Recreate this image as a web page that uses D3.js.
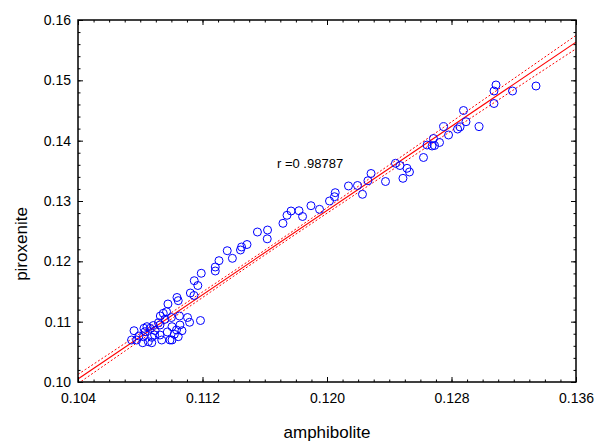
<!DOCTYPE html>
<html>
<head>
<meta charset="utf-8">
<script src="https://cdn.jsdelivr.net/npm/d3@7"></script>
<style>
  html, body { margin: 0; padding: 0; background: #fff; }
</style>
</head>
<body>
<script>
const WIDTH = 602;
const HEIGHT = 444;
const FONT = '"Liberation Sans", Arial, sans-serif';
const M = { left: 78, right: 26, top: 20, bottom: 62 };

// data
const amphibolite = [
  0.13086, 0.13073, 0.13192, 0.13343, 0.13073, 0.12877, 0.12893, 0.12749, 0.12855, 0.12839,
  0.12977, 0.12781, 0.12684, 0.12643, 0.12675, 0.12691, 0.12723, 0.12620, 0.12440, 0.12469,
  0.12514, 0.12530, 0.12488, 0.12376, 0.12283, 0.12263, 0.12196, 0.12138, 0.12228, 0.12053,
  0.12048, 0.12016, 0.11952, 0.11897, 0.11843, 0.11820, 0.11769, 0.11743, 0.11717, 0.11618,
  0.11616, 0.11553, 0.11486, 0.11451, 0.11444, 0.11392, 0.11359, 0.11306, 0.11282, 0.11282,
  0.11192, 0.11147, 0.11170, 0.11122, 0.11145, 0.11036, 0.11044, 0.10978, 0.10969, 0.10948,
  0.10929, 0.10917, 0.10959, 0.11000, 0.11052, 0.11104, 0.11117, 0.11187, 0.11055, 0.11004,
  0.11033, 0.11068, 0.11019, 0.10974, 0.10927, 0.10895, 0.10884, 0.10927, 0.10843, 0.10824,
  0.10863, 0.10831, 0.10820, 0.10874, 0.10760, 0.10792, 0.10744, 0.10777, 0.10816, 0.10874,
  0.10852, 0.10938, 0.11004, 0.11044, 0.10991, 0.10892
];
const piroxenite = [
  0.14923, 0.14823, 0.14823, 0.14906, 0.14616, 0.14500, 0.14314, 0.14232, 0.14227, 0.14193,
  0.14232, 0.14094, 0.14036, 0.13928, 0.13912, 0.13920, 0.13970, 0.13721, 0.13625, 0.13588,
  0.13542, 0.13481, 0.13376, 0.13323, 0.13456, 0.13336, 0.13257, 0.13249, 0.13111, 0.13138,
  0.13071, 0.13000, 0.12862, 0.12922, 0.12743, 0.12839, 0.12834, 0.12763, 0.12630, 0.12519,
  0.12373, 0.12486, 0.12279, 0.12238, 0.12188, 0.12050, 0.12176, 0.12011, 0.11906, 0.11840,
  0.11802, 0.11679, 0.11599, 0.11475, 0.11434, 0.11401, 0.11348, 0.11293, 0.11165, 0.11139,
  0.11094, 0.10983, 0.11039, 0.11069, 0.11094, 0.11069, 0.10990, 0.11019, 0.10945, 0.10917,
  0.10862, 0.10850, 0.10791, 0.10829, 0.10779, 0.10854, 0.10936, 0.10945, 0.10917, 0.10890,
  0.10890, 0.10834, 0.10751, 0.10741, 0.10850, 0.10762, 0.10696, 0.10696, 0.10651, 0.10651,
  0.10668, 0.10696, 0.10696, 0.10751, 0.10696, 0.10779
];

// fitted line as drawn in the picture (piroxenite = a + b * amphibolite)
const fitIntercept = -0.08098;
const fitSlope = 1.745;
const residualSd = 0.002;

const xTicks = [0.104, 0.112, 0.120, 0.128, 0.136];
const xTickLabels = ['0.104', '0.112', '0.120', '0.128', '0.136'];
const yTicks = [0.10, 0.11, 0.12, 0.13, 0.14, 0.15, 0.16];
const yTickLabels = ['0.10', '0.11', '0.12', '0.13', '0.14', '0.15', '0.16'];
const xMinorStep = 0.001;
const yMinorStep = 0.002;
const rLabel = 'r =0 .98787';

const points = amphibolite.map((a, i) => ({ x: a, y: piroxenite[i] }));

const svg = d3.select('body').append('svg')
  .attr('width', WIDTH)
  .attr('height', HEIGHT)
  .attr('viewBox', `0 0 ${WIDTH} ${HEIGHT}`)
  .style('display', 'block')
  .style('background', '#fff');

const x = d3.scaleLinear().domain([0.104, 0.136]).range([M.left, WIDTH - M.right]);
const y = d3.scaleLinear().domain([0.10, 0.16]).range([HEIGHT - M.bottom, M.top]);

const xMinor = d3.range(0.104, 0.1365, xMinorStep);
const yMinor = d3.range(0.10, 0.1605, yMinorStep);

svg.append('clipPath').attr('id', 'clip')
  .append('rect')
  .attr('x', M.left).attr('y', M.top)
  .attr('width', x.range()[1] - M.left)
  .attr('height', y.range()[0] - M.top);

// 95% confidence band of the fitted line
const n = points.length;
const mx = d3.mean(points, d => d.x);
const sxx = d3.sum(points, d => (d.x - mx) ** 2);
const tval = 1.986;
const xs = d3.range(0.104, 0.13601, 0.0005);
const fit = v => fitIntercept + fitSlope * v;
const band = (k) => xs.map(v => [v, fit(v) + k * tval * residualSd * Math.sqrt(1 / n + (v - mx) ** 2 / sxx)]);

const line = d3.line().x(d => x(d[0])).y(d => y(d[1]));
const g = svg.append('g').attr('clip-path', 'url(#clip)');

[-1, 1].forEach(k => {
  g.append('path')
    .attr('d', line(band(k)))
    .attr('fill', 'none')
    .attr('stroke', '#ff0000')
    .attr('stroke-width', 1)
    .attr('stroke-dasharray', '2,2');
});
g.append('path')
  .attr('d', line([[0.104, fit(0.104)], [0.136, fit(0.136)]]))
  .attr('fill', 'none')
  .attr('stroke', '#ff0000')
  .attr('stroke-width', 1.1);

g.selectAll('circle.pt')
  .data(points)
  .join('circle')
  .attr('class', 'pt')
  .attr('cx', d => x(d.x))
  .attr('cy', d => y(d.y))
  .attr('r', 4)
  .attr('fill', 'none')
  .attr('stroke', '#0000ff')
  .attr('stroke-width', 1);

// axes, ticks inside
function styleAxis(sel) {
  sel.select('.domain').remove();
  sel.selectAll('line').attr('stroke', '#000').attr('stroke-width', 1);
  sel.selectAll('text').attr('fill', '#000').attr('font-family', FONT).attr('font-size', 14);
}
const bottom = HEIGHT - M.bottom;
const right = WIDTH - M.right;

svg.append('g').attr('transform', `translate(0,${bottom})`)
  .call(d3.axisBottom(x).tickValues(xMinor).tickSize(-2.5).tickFormat(''))
  .call(styleAxis);
svg.append('g').attr('transform', `translate(0,${M.top})`)
  .call(d3.axisTop(x).tickValues(xMinor).tickSize(-2.5).tickFormat(''))
  .call(styleAxis);
svg.append('g').attr('transform', `translate(${M.left},0)`)
  .call(d3.axisLeft(y).tickValues(yMinor).tickSize(-2.5).tickFormat(''))
  .call(styleAxis);
svg.append('g').attr('transform', `translate(${right},0)`)
  .call(d3.axisRight(y).tickValues(yMinor).tickSize(-2.5).tickFormat(''))
  .call(styleAxis);

svg.append('g').attr('transform', `translate(0,${bottom})`)
  .call(d3.axisBottom(x).tickValues(xTicks).tickSize(-5).tickPadding(11)
    .tickFormat((d, i) => xTickLabels[i]))
  .call(styleAxis);
svg.append('g').attr('transform', `translate(${M.left},0)`)
  .call(d3.axisLeft(y).tickValues(yTicks).tickSize(-5).tickPadding(7)
    .tickFormat((d, i) => yTickLabels[i]))
  .call(styleAxis);
svg.append('g').attr('transform', `translate(0,${M.top})`)
  .call(d3.axisTop(x).tickValues(xTicks).tickSize(-5).tickFormat(''))
  .call(styleAxis);
svg.append('g').attr('transform', `translate(${right},0)`)
  .call(d3.axisRight(y).tickValues(yTicks).tickSize(-5).tickFormat(''))
  .call(styleAxis);

svg.append('rect')
  .attr('x', M.left).attr('y', M.top)
  .attr('width', right - M.left)
  .attr('height', bottom - M.top)
  .attr('fill', 'none')
  .attr('stroke', '#000')
  .attr('stroke-width', 1.5);

svg.append('text')
  .attr('x', 277).attr('y', 168)
  .attr('font-family', FONT).attr('font-size', 13)
  .attr('fill', '#000')
  .text(rLabel);

svg.append('text')
  .attr('x', (M.left + right) / 2).attr('y', 438)
  .attr('text-anchor', 'middle')
  .attr('font-family', FONT).attr('font-size', 17)
  .attr('fill', '#000')
  .text('amphibolite');

svg.append('text')
  .attr('transform', `translate(27,244) rotate(-90)`)
  .attr('text-anchor', 'middle')
  .attr('font-family', FONT).attr('font-size', 17)
  .attr('fill', '#000')
  .text('piroxenite');
</script>
</body>
</html>
